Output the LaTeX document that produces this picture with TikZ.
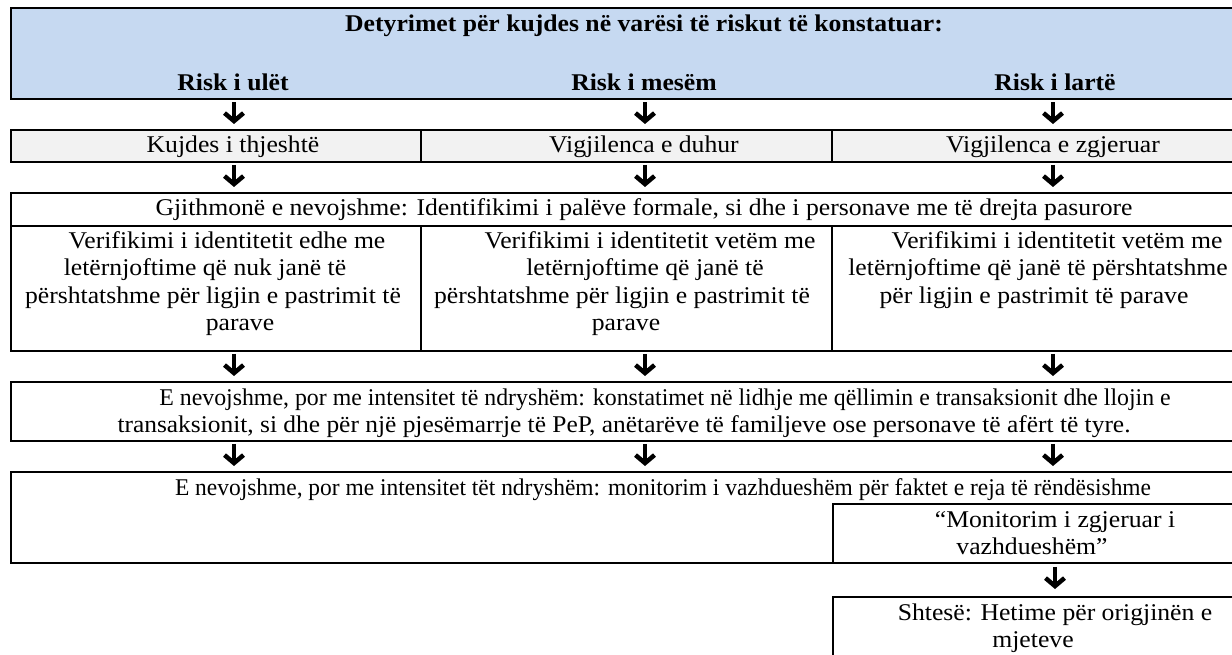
\documentclass[tikz,border=0pt]{standalone}
\usepackage{fontspec}
\setmainfont{Liberation Serif}[FakeStretch=1.07]
\usetikzlibrary{arrows.meta}
\definecolor{hdrblue}{RGB}{198,217,241}
\definecolor{rowgray}{RGB}{242,242,242}
\begin{document}
\begin{tikzpicture}[x=1pt,y=-1pt,
  box/.style={draw=black, line width=1.8pt, rectangle, inner sep=0pt, anchor=north west},
  txt/.style={font=\fontsize{24}{27}\selectfont, inner sep=0pt, anchor=base},
  btxt/.style={font=\fontsize{24}{27}\selectfont\bfseries, inner sep=0pt, anchor=base},
  arr/.style={line width=4.5pt, -{Straight Barb[length=8pt,width=19pt]}, shorten <=2pt, shorten >=5pt}]
\useasboundingbox (0,0) rectangle (1232,655);
\fill[white] (0,0) rectangle (1232,655);
\clip (0,0) rectangle (1232,655);

\coordinate (c1) at (234,0);
\coordinate (c2) at (645,0);
\coordinate (c3) at (1053,0);
\coordinate (c4) at (1055,0);

% boxes
\node[box, fill=hdrblue, line width=2.2pt, minimum width=1250pt, minimum height=91pt] (hdr) at (10,7) {};
\node[box, fill=rowgray, minimum width=410pt, minimum height=32pt] (k1) at (10,129) {};
\node[box, fill=rowgray, minimum width=411pt, minimum height=32pt] (k2) at (420,129) {};
\node[box, fill=rowgray, minimum width=429pt, minimum height=32pt] (k3) at (831,129) {};
\node[box, minimum width=1250pt, minimum height=33pt] (gj) at (10,192) {};
\node[box, minimum width=410pt, minimum height=125pt] (v1) at (10,225) {};
\node[box, minimum width=411pt, minimum height=125pt] (v2) at (420,225) {};
\node[box, minimum width=429pt, minimum height=125pt] (v3) at (831,225) {};
\node[box, minimum width=1250pt, minimum height=59pt] (en1) at (10,381) {};
\node[box, minimum width=1250pt, minimum height=91pt] (en2) at (10,471) {};
\node[box, minimum width=428pt, minimum height=59pt] (mon) at (832,503) {};
\node[box, minimum width=428pt, minimum height=80pt] (sh) at (832,596) {};

% header texts
\node[btxt] (t0) at (644,32) {Detyrimet për kujdes në varësi të riskut të konstatuar:};
\node[btxt] (r1) at (233,91) {Risk i ulët};
\node[btxt] (r2) at (644,91) {Risk i mesëm};
\node[btxt] (r3) at (1055,91) {Risk i lartë};

% row 2
\node[txt] (kt1) at (233,153) {Kujdes i thjeshtë};
\node[txt] (kt2) at (644,153) {Vigjilenca e duhur};
\node[txt] (kt3) at (1053,153) {Vigjilenca e zgjeruar};

% always
\node[txt] (gt) at (644,216) {Gjithmonë e nevojshme: Identifikimi i palëve formale, si dhe i personave me të drejta pasurore};

% verification
\node[txt] (v1a) at (227,249) {Verifikimi i identitetit edhe me};
\node[txt] (v1b) at (205,276) {letërnjoftime që nuk janë të};
\node[txt] (v1c) at (213,303) {përshtatshme për ligjin e pastrimit të};
\node[txt] (v1d) at (240,330) {parave};
\node[txt] (v2a) at (650,249) {Verifikimi i identitetit vetëm me};
\node[txt] (v2b) at (645,276) {letërnjoftime që janë të};
\node[txt] (v2c) at (622,303) {përshtatshme për ligjin e pastrimit të};
\node[txt] (v2d) at (626,330) {parave};
\node[txt] (v3a) at (1057,249) {Verifikimi i identitetit vetëm me};
\node[txt] (v3b) at (1038,276) {letërnjoftime që janë të përshtatshme};
\node[txt] (v3c) at (1034,303) {për ligjin e pastrimit të parave};

% E nevojshme 1
\node[txt] (e1a) at (665,405) {\scalebox{0.928}[1]{E nevojshme, por me intensitet të ndryshëm: konstatimet në lidhje me qëllimin e transaksionit dhe llojin e}};
\node[txt] (e1b) at (624,432) {\scalebox{0.99}[1]{transaksionit, si dhe për një pjesëmarrje të PeP, anëtarëve të familjeve ose personave të afërt të tyre.}};

% E nevojshme 2
\node[txt] (e2a) at (663,495) {\scalebox{0.913}[1]{E nevojshme, por me intensitet tët ndryshëm: monitorim i vazhdueshëm për faktet e reja të rëndësishme}};
\node[txt] (ma) at (1055,527) {“Monitorim i zgjeruar i};
\node[txt] (mb) at (1032,554) {vazhdueshëm”};

% last
\node[txt] (sa) at (1055,620) {Shtesë: Hetime për origjinën e};
\node[txt] (sb) at (1033,647) {mjeteve};

% arrows
\draw[arr] (hdr.south -| c1) -- (k1.north -| c1);
\draw[arr] (hdr.south -| c2) -- (k2.north -| c2);
\draw[arr] (hdr.south -| c3) -- (k3.north -| c3);
\draw[arr] (k1.south -| c1) -- (gj.north -| c1);
\draw[arr] (k2.south -| c2) -- (gj.north -| c2);
\draw[arr] (k3.south -| c3) -- (gj.north -| c3);
\draw[arr] (v1.south -| c1) -- (en1.north -| c1);
\draw[arr] (v2.south -| c2) -- (en1.north -| c2);
\draw[arr] (v3.south -| c3) -- (en1.north -| c3);
\draw[arr] (en1.south -| c1) -- (en2.north -| c1);
\draw[arr] (en1.south -| c2) -- (en2.north -| c2);
\draw[arr] (en1.south -| c3) -- (en2.north -| c3);
\draw[arr, shorten <=3pt, shorten >=7pt] (mon.south -| c4) -- (sh.north -| c4);
\end{tikzpicture}
\end{document}
